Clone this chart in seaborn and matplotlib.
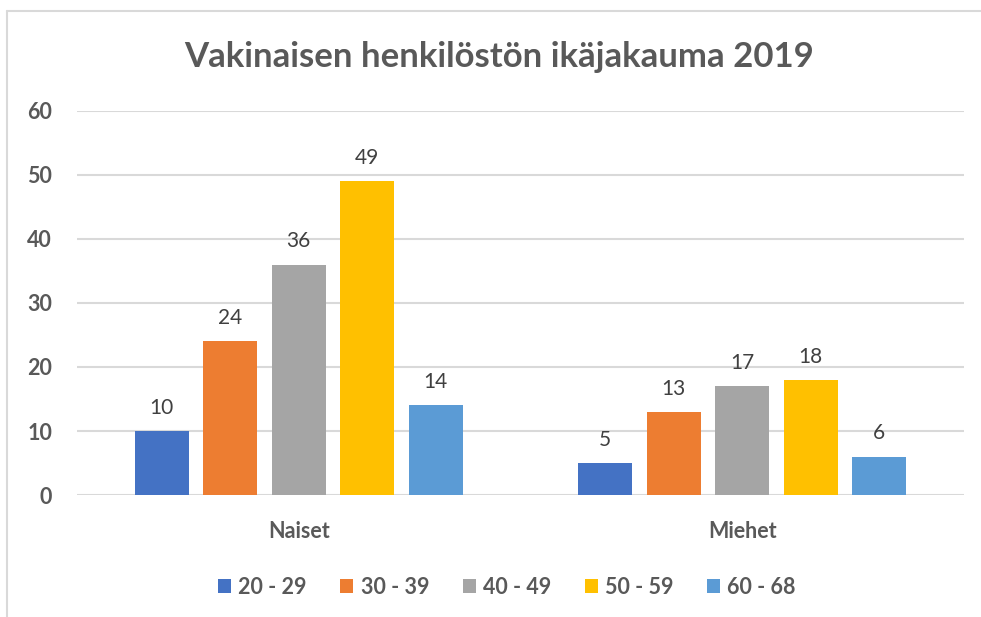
import matplotlib
matplotlib.use("Agg")
import matplotlib.pyplot as plt
from matplotlib.lines import Line2D
import seaborn as sns
import pandas as pd

categories = ["Naiset", "Miehet"]
age_groups = ["20 - 29", "30 - 39", "40 - 49", "50 - 59", "60 - 68"]
naiset = [10, 24, 36, 49, 14]
miehet = [5, 13, 17, 18, 6]
colors = ["#4472C4", "#ED7D31", "#A5A5A5", "#FFC000", "#5B9BD5"]
title = "Vakinaisen henkilöstön ikäjakauma 2019"
yticks = [0, 10, 20, 30, 40, 50, 60]

rows = []
for cat, vals in zip(categories, [naiset, miehet]):
    for g, v in zip(age_groups, vals):
        rows.append({"Sukupuoli": cat, "Ikä": g, "Määrä": v})
df = pd.DataFrame(rows)

sns.set_theme(style="white")
plt.rcParams["font.family"] = ["Lato", "DejaVu Sans"]

fig = plt.figure(figsize=(9.81, 6.17), dpi=100)
ax = fig.add_axes([77/981, 1-495/617, 887/981, 384/617])

sns.barplot(data=df, x="Sukupuoli", y="Määrä", hue="Ikä", order=categories,
            hue_order=age_groups, palette=colors, width=0.7725, gap=0.21,
            saturation=1, ax=ax, legend=True, linewidth=0)

txt = "#595959"
for cont in ax.containers:
    ax.bar_label(cont, padding=9.5, fontsize=15, color="#404040")

ax.set_xlim(-0.5, 1.5)
ax.set_ylim(0, 60)
ax.set_yticks(yticks)
ax.yaxis.grid(True, color="#d9d9d9", linewidth=1.5)
ax.set_axisbelow(True)
for s in ax.spines.values():
    s.set_visible(False)
ax.tick_params(axis="y", length=0, pad=18, labelsize=15.5, labelcolor=txt)
ax.tick_params(axis="x", length=0, pad=19, labelsize=15.5, labelcolor=txt)
for lab in ax.get_yticklabels() + ax.get_xticklabels():
    lab.set_fontweight("bold")
ax.set_xlabel("")
ax.set_ylabel("")

leg = ax.legend(loc="center", bbox_to_anchor=(507/981, 1-587/617),
                bbox_transform=fig.transFigure, ncol=5, frameon=False,
                handlelength=0.6, handleheight=0.6, handletextpad=0.35,
                columnspacing=1.55, prop={"size": 15.5, "weight": "bold"})
for t in leg.get_texts():
    t.set_color(txt)

fig.text(499/981, 1-57/617, title, ha="center", va="center",
         fontsize=25, fontweight="bold", color=txt)

fig.add_artist(Line2D([7/981, 1], [1-11/617, 1-11/617], color="#d9d9d9",
                      linewidth=1.5, transform=fig.transFigure))
fig.add_artist(Line2D([7/981, 7/981], [0, 1-11/617], color="#d9d9d9",
                      linewidth=1.5, transform=fig.transFigure))

fig.savefig("out.png", dpi=100)
